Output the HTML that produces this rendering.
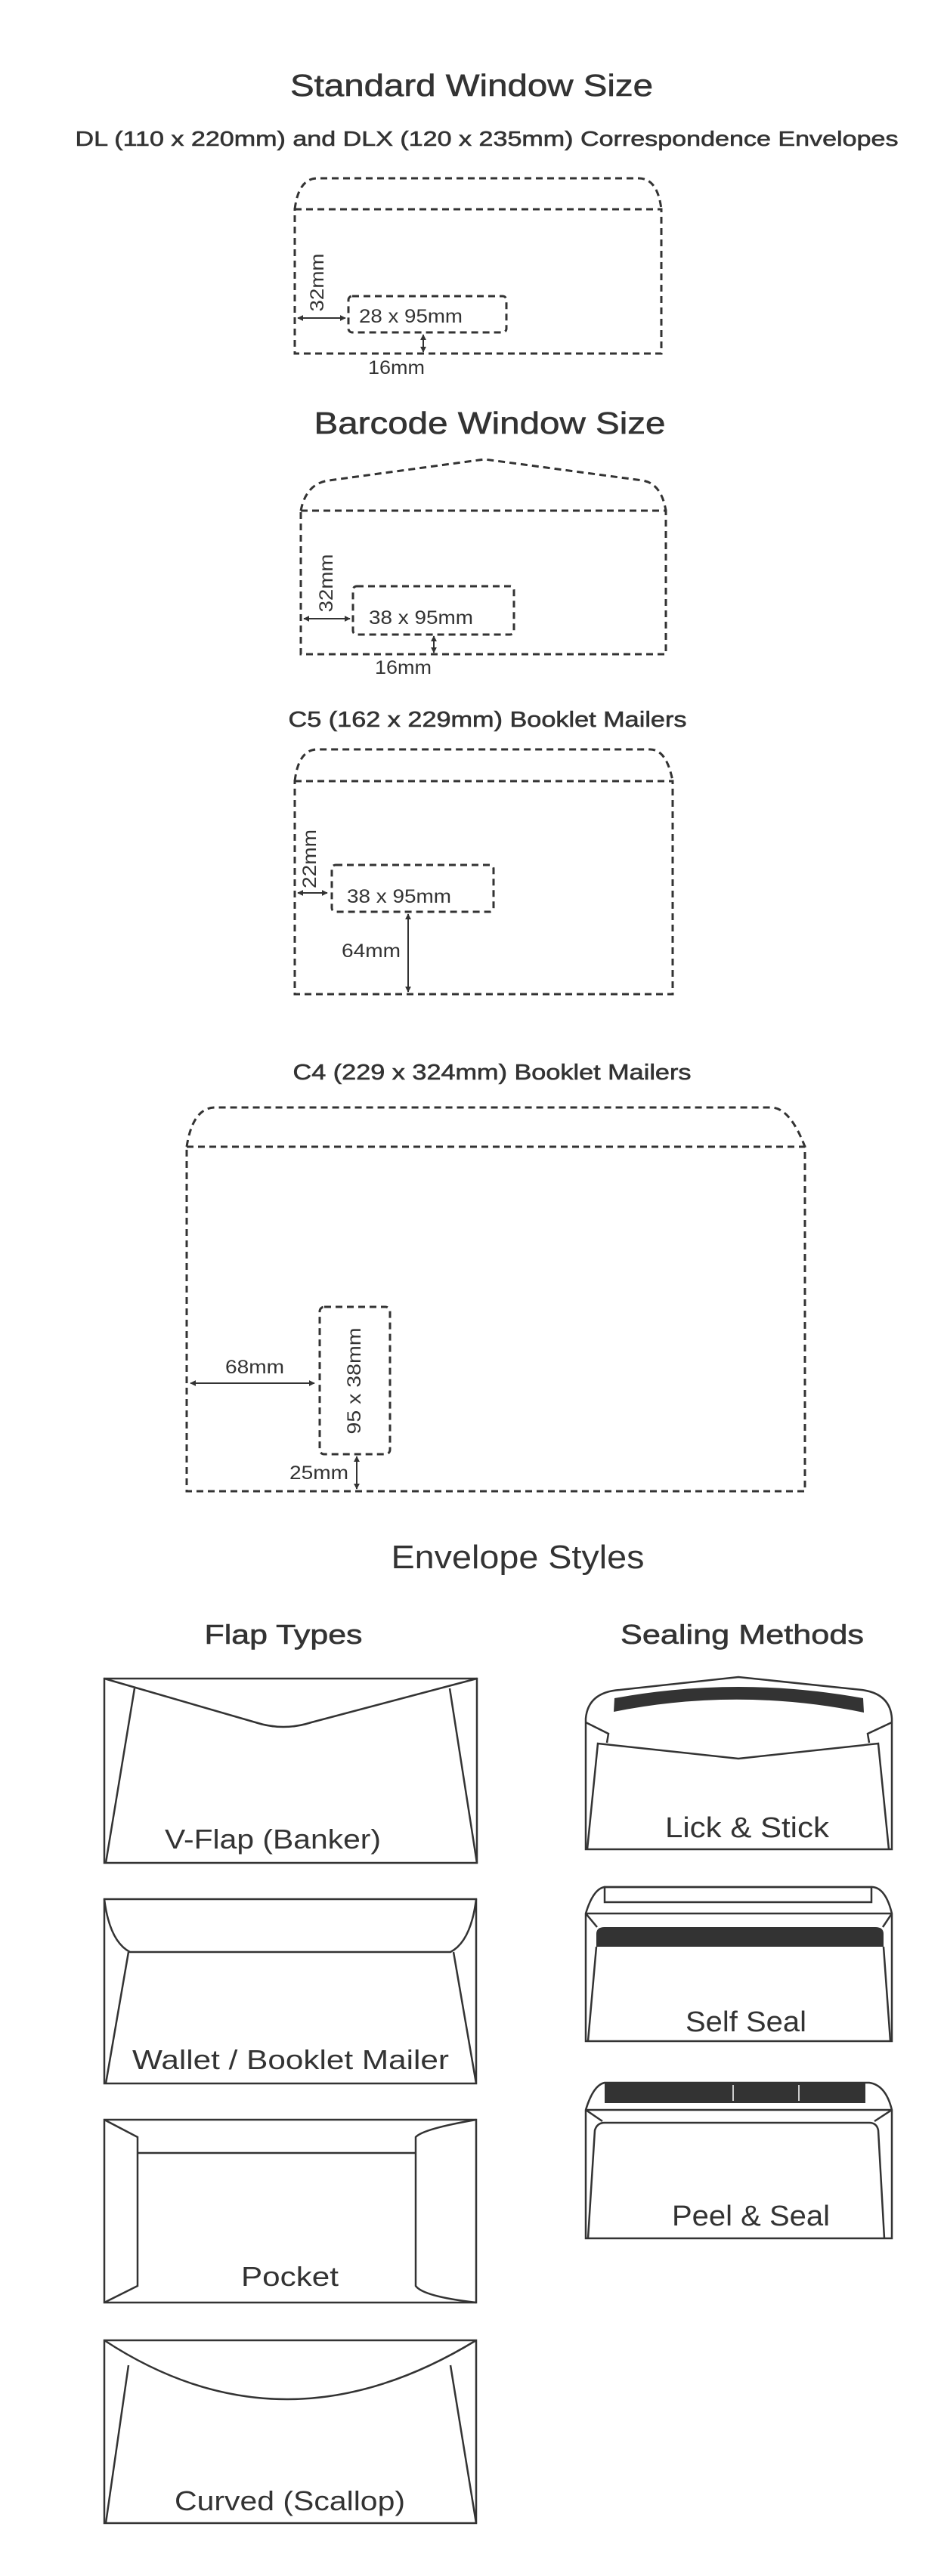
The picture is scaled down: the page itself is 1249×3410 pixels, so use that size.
<!DOCTYPE html>
<html><head><meta charset="utf-8"><style>
html,body{margin:0;padding:0;background:#fff;}
svg{display:block;}
text{font-family:"Liberation Sans",sans-serif;fill:#333;}
.d{fill:none;stroke:#333;stroke-width:3;stroke-dasharray:9 6;}
.s{fill:none;stroke:#333;stroke-width:2.5;}
.a{fill:none;stroke:#333;stroke-width:2;}
.m{stroke:#333;stroke-width:0.6;}
</style></head><body>
<svg width="1249" height="3410" viewBox="0 0 1249 3410" xmlns="http://www.w3.org/2000/svg">
<defs>
<marker id="ah" viewBox="0 0 10 10" refX="9" refY="5" markerWidth="4" markerHeight="4" orient="auto-start-reverse"><path d="M0,0 L10,5 L0,10 z" fill="#333"/></marker>
</defs>

<!-- Standard -->
<text x="624" y="127" font-size="41" text-anchor="middle" class="m" textLength="480" lengthAdjust="spacingAndGlyphs">Standard Window Size</text>
<text x="644" y="193" font-size="28" text-anchor="middle" class="m" textLength="1089" lengthAdjust="spacingAndGlyphs">DL (110 x 220mm) and DLX (120 x 235mm) Correspondence Envelopes</text>
<path class="d" d="M390,277 Q395,236 420,236 L845,236 Q870,236 875,277"/>
<rect class="d" x="390" y="277" width="485" height="191"/>
<rect class="d" x="461" y="392" width="209" height="48" rx="5"/>
<text x="475" y="427" font-size="25" textLength="137" lengthAdjust="spacingAndGlyphs">28 x 95mm</text>
<text transform="translate(428,374) rotate(-90)" font-size="25" text-anchor="middle" textLength="77" lengthAdjust="spacingAndGlyphs">32mm</text>
<line class="a" x1="394" y1="421" x2="457" y2="421" marker-start="url(#ah)" marker-end="url(#ah)"/>
<line class="a" x1="560" y1="443" x2="560" y2="466" marker-start="url(#ah)" marker-end="url(#ah)"/>
<text x="487" y="495" font-size="25" textLength="75" lengthAdjust="spacingAndGlyphs">16mm</text>

<!-- Barcode -->
<text x="648" y="574" font-size="41" text-anchor="middle" class="m" textLength="465" lengthAdjust="spacingAndGlyphs">Barcode Window Size</text>
<path class="d" d="M398,676 Q405,640 435,636 L641,608 L850,636 Q875,640 881,676"/>
<rect class="d" x="398" y="676" width="483" height="190"/>
<rect class="d" x="467" y="776" width="213" height="64" rx="5"/>
<text x="488" y="826" font-size="25" textLength="138" lengthAdjust="spacingAndGlyphs">38 x 95mm</text>
<text transform="translate(440,772) rotate(-90)" font-size="25" text-anchor="middle" textLength="77" lengthAdjust="spacingAndGlyphs">32mm</text>
<line class="a" x1="402" y1="819" x2="463" y2="819" marker-start="url(#ah)" marker-end="url(#ah)"/>
<line class="a" x1="574" y1="842" x2="574" y2="864" marker-start="url(#ah)" marker-end="url(#ah)"/>
<text x="496" y="892" font-size="25" textLength="75" lengthAdjust="spacingAndGlyphs">16mm</text>

<!-- C5 -->
<text x="645" y="962" font-size="29" text-anchor="middle" class="m" textLength="527" lengthAdjust="spacingAndGlyphs">C5 (162 x 229mm) Booklet Mailers</text>
<path class="d" d="M390,1034 Q395,992 420,992 L860,992 Q882,992 890,1034"/>
<rect class="d" x="390" y="1034" width="500" height="282"/>
<rect class="d" x="439" y="1145" width="214" height="62" rx="5"/>
<text x="459" y="1195" font-size="25" textLength="138" lengthAdjust="spacingAndGlyphs">38 x 95mm</text>
<text transform="translate(418,1137) rotate(-90)" font-size="25" text-anchor="middle" textLength="78" lengthAdjust="spacingAndGlyphs">22mm</text>
<line class="a" x1="394" y1="1182" x2="433" y2="1182" marker-start="url(#ah)" marker-end="url(#ah)"/>
<line class="a" x1="540" y1="1210" x2="540" y2="1313" marker-start="url(#ah)" marker-end="url(#ah)"/>
<text x="452" y="1267" font-size="25" textLength="78" lengthAdjust="spacingAndGlyphs">64mm</text>

<!-- C4 -->
<text x="651" y="1429" font-size="29" text-anchor="middle" class="m" textLength="527" lengthAdjust="spacingAndGlyphs">C4 (229 x 324mm) Booklet Mailers</text>
<path class="d" d="M247,1518 Q255,1466 285,1466 L1020,1466 Q1045,1466 1065,1518"/>
<rect class="d" x="247" y="1518" width="818" height="456"/>
<rect class="d" x="423" y="1730" width="93" height="195" rx="6"/>
<text transform="translate(477,1828) rotate(-90)" font-size="25" text-anchor="middle" textLength="141" lengthAdjust="spacingAndGlyphs">95 x 38mm</text>
<text x="298" y="1818" font-size="25" textLength="78" lengthAdjust="spacingAndGlyphs">68mm</text>
<line class="a" x1="252" y1="1831" x2="416" y2="1831" marker-start="url(#ah)" marker-end="url(#ah)"/>
<text x="383" y="1958" font-size="25" textLength="78" lengthAdjust="spacingAndGlyphs">25mm</text>
<line class="a" x1="472" y1="1928" x2="472" y2="1971" marker-start="url(#ah)" marker-end="url(#ah)"/>

<!-- Envelope styles -->
<text x="685" y="2076" font-size="44" text-anchor="middle" textLength="335" lengthAdjust="spacingAndGlyphs">Envelope Styles</text>
<text x="375" y="2176" font-size="36" text-anchor="middle" class="m" textLength="209" lengthAdjust="spacingAndGlyphs">Flap Types</text>
<text x="982" y="2176" font-size="36" text-anchor="middle" class="m" textLength="322" lengthAdjust="spacingAndGlyphs">Sealing Methods</text>

<!-- V-Flap -->
<rect class="s" x="138" y="2222" width="493" height="244"/>
<path class="s" d="M138,2222 L338,2280 Q375,2292 412,2280 L631,2222"/>
<path class="s" d="M178,2235 L140,2466 M595,2235 L631,2466"/>
<text x="218" y="2447" font-size="36" textLength="286" lengthAdjust="spacingAndGlyphs">V-Flap (Banker)</text>

<!-- Wallet -->
<rect class="s" x="138" y="2514" width="492" height="244"/>
<path class="s" d="M138,2514 Q145,2570 172,2584 L596,2584 Q623,2570 630,2514"/>
<path class="s" d="M170,2584 L140,2758 M600,2584 L630,2758"/>
<text x="175" y="2739" font-size="36" textLength="419" lengthAdjust="spacingAndGlyphs">Wallet / Booklet Mailer</text>

<!-- Pocket -->
<rect class="s" x="138" y="2806" width="492" height="242"/>
<path class="s" d="M138,2806 L182,2829 L182,3026 L138,3048"/>
<path class="s" d="M182,2850 L550,2850"/>
<path class="s" d="M630,2806 Q560,2818 550,2829 L550,3026 Q560,3040 630,3048"/>
<text x="319" y="3026" font-size="36" textLength="129" lengthAdjust="spacingAndGlyphs">Pocket</text>

<!-- Curved -->
<rect class="s" x="138" y="3098" width="492" height="242"/>
<path class="s" d="M138,3098 Q375,3254 630,3098"/>
<path class="s" d="M170,3131 L140,3340 M596,3131 L630,3340"/>
<text x="231" y="3323" font-size="36" textLength="305" lengthAdjust="spacingAndGlyphs">Curved (Scallop)</text>

<!-- Lick & Stick -->
<path class="s" d="M775,2448 L775,2275 Q778,2240 820,2237 L977,2220 L1140,2237 Q1178,2242 1180,2275 L1180,2448 Z"/>
<path fill="#333" d="M813,2248 Q977,2218 1142,2248 L1143,2267 Q977,2233 812,2266 Z"/>
<path class="s" d="M775,2280 L805,2295 L803,2307 M1180,2280 L1148,2295 L1150,2307"/>
<path class="s" d="M777,2448 L791,2308 L977,2328 L1162,2308 L1176,2448"/>
<text x="880" y="2432" font-size="38" textLength="217" lengthAdjust="spacingAndGlyphs">Lick &amp; Stick</text>

<!-- Self Seal -->
<path class="s" d="M775,2702 L775,2533 Q785,2500 800,2498 L1155,2498 Q1172,2500 1180,2533 L1180,2702 Z"/>
<rect class="s" x="800" y="2498" width="353" height="20"/>
<path class="s" d="M775,2533 L1180,2533 M775,2533 L790,2551 M1180,2533 L1168,2551"/>
<path fill="#333" d="M789,2577 L789,2560 Q789,2551 800,2551 L1158,2551 Q1169,2551 1169,2560 L1169,2577 Z"/>
<path class="s" d="M789,2577 L778,2702 M1169,2577 L1178,2702"/>
<text x="907" y="2689" font-size="38" textLength="160" lengthAdjust="spacingAndGlyphs">Self Seal</text>

<!-- Peel & Seal -->
<path class="s" d="M775,2963 L775,2793 Q785,2760 800,2757 L1150,2757 Q1172,2760 1180,2793 L1180,2963 Z"/>
<rect fill="#333" x="800" y="2757" width="345" height="27"/>
<path stroke="#fff" stroke-width="1.5" d="M970,2760 L970,2781 M1057,2760 L1057,2781"/>
<path class="s" d="M775,2793 L1180,2793 M775,2793 L797,2808 M1180,2793 L1157,2808"/>
<path class="s" d="M778,2963 L787,2820 Q790,2810 800,2810 L1150,2810 Q1160,2810 1162,2820 L1170,2963"/>
<text x="889" y="2946" font-size="38" textLength="209" lengthAdjust="spacingAndGlyphs">Peel &amp; Seal</text>
</svg>
</body></html>
